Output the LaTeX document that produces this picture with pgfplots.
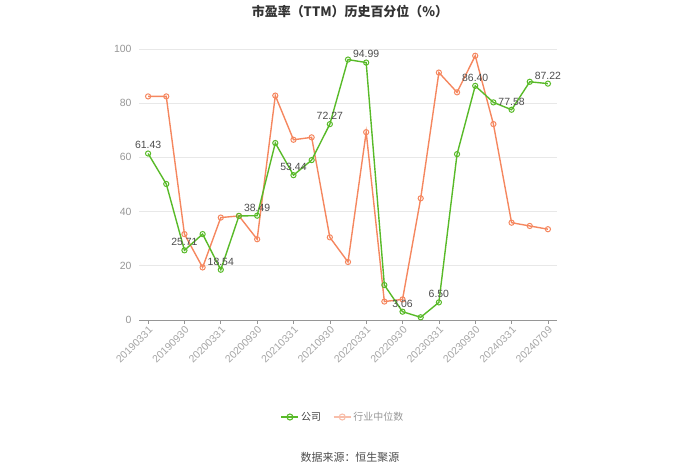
\documentclass[border=0pt]{standalone}
\usepackage{fontspec}
\setmainfont{Liberation Sans}
\newfontfamily\cjk{Noto Sans CJK SC}
\usepackage{pgfplots}
\pgfplotsset{compat=1.18}

\definecolor{gs}{RGB}{88,186,40}
\definecolor{os}{RGB}{245,135,95}
\definecolor{osl}{RGB}{248,190,170}
\definecolor{tk}{RGB}{150,150,150}
\definecolor{gr}{RGB}{232,232,232}

\begin{document}
\begin{tikzpicture}[x=1bp,y=1bp]
\useasboundingbox (0,0) rectangle (700,474);
\node[font=\cjk\bfseries\fontsize{13}{15}\selectfont, text=black!80] at (350,462) {市盈率（TTM）历史百分位（\%）};
\node[font=\cjk\fontsize{11}{13}\selectfont, text=black!70] at (350,17) {数据来源：恒生聚源};
\begin{axis}[
  at={(139bp,154bp)}, anchor=south west,
  scale only axis, width=418bp, height=271bp,
  xmin=-0.5, xmax=22.5, ymin=0, ymax=100,
  axis x line*=bottom, axis y line*=left,
  x axis line style={draw=tk, line width=0.8pt},
  y axis line style={draw=none},
  ytick={0,20,...,100}, ytick style={draw=none},
  xtick={0,2,...,22},
  xticklabels={20190331,20190930,20200331,20200930,20210331,20210930,20220331,20220930,20230331,20230930,20240331,20240709},
  x tick style={draw=tk, line width=0.6pt}, tick align=outside, major tick length=4bp,
  x tick label style={rotate=45, anchor=north east, inner sep=1pt, font=\fontsize{10.5}{12}\selectfont, text=tk!85},
  y tick label style={font=\fontsize{10.5}{12}\selectfont, text=tk},
  /pgf/number format/assume math mode=true,
  ymajorgrids, grid style={draw=gr, line width=0.6pt},
  clip=false,
  legend style={at={(0.488,-0.358)}, anchor=center, draw=none, fill=none,
    legend columns=2, font=\cjk\fontsize{10}{12}\selectfont,
    /tikz/every even column/.append style={column sep=10bp}},
  legend cell align=left,
]
\addplot[os, line width=1.4pt, mark=o, mark size=2.6bp, mark options={fill=white, line width=1pt}, forget plot] coordinates {
(0,82.5)(1,82.5)(2,31.7)(3,19.4)(4,37.8)(5,38.4)(6,29.8)(7,82.8)(8,66.5)(9,67.4)(10,30.5)(11,21.4)(12,69.3)(13,6.8)(14,7.6)(15,44.9)(16,91.3)(17,84.0)(18,97.5)(19,72.3)(20,35.9)(21,34.7)(22,33.5)
};
\addplot[gs, line width=1.4pt, mark=o, mark size=2.6bp, mark options={fill=white, line width=1pt}, forget plot] coordinates {
(0,61.43)(1,50.2)(2,25.71)(3,31.7)(4,18.54)(5,38.4)(6,38.49)(7,65.3)(8,53.44)(9,59.0)(10,72.27)(11,96.1)(12,94.99)(13,12.9)(14,3.06)(15,1.0)(16,6.50)(17,61.2)(18,86.40)(19,80.3)(20,77.58)(21,87.9)(22,87.22)
};
\addplot[draw=none, forget plot, nodes near coords,
  every node near coord/.append style={font=\fontsize{10.5}{12}\selectfont, text=black!70, yshift=1bp},
  /pgf/number format/.cd, fixed, precision=2, fixed zerofill] coordinates {
(0,61.43)(2,25.71)(4,18.54)(6,38.49)(8,53.44)(10,72.27)(12,94.99)(14,3.06)(16,6.50)(18,86.40)(20,77.58)(22,87.22)
};
\addlegendimage{gs, line width=1.4pt, mark=o, mark size=3bp, mark options={fill=white, line width=1.1pt}}
\addlegendentry{\textcolor{black!75}{公司}}
\addlegendimage{osl, line width=1.4pt, mark=o, mark size=3bp, mark options={fill=white, line width=1.1pt}}
\addlegendentry{\textcolor{tk}{行业中位数}}
\end{axis}
\end{tikzpicture}
\end{document}
